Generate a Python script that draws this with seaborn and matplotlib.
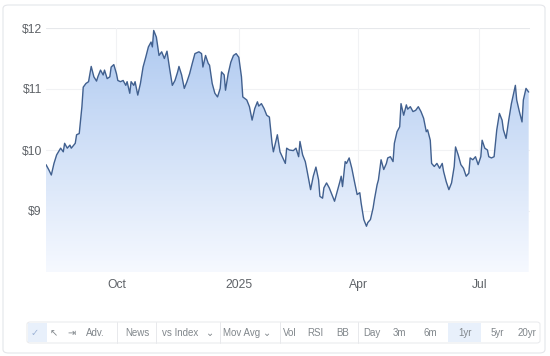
import numpy as np
import pandas as pd
import matplotlib
matplotlib.use("Agg")
import matplotlib.pyplot as plt
import matplotlib.dates as mdates
from matplotlib.patches import FancyBboxPatch, Rectangle
import seaborn as sns

# ---------------- data ----------------
dates = [
    "2024-08-09", "2024-08-11", "2024-08-13", "2024-08-15", "2024-08-17", "2024-08-20",
    "2024-08-22", "2024-08-23", "2024-08-25", "2024-08-27", "2024-08-28", "2024-08-31",
    "2024-09-01", "2024-09-03", "2024-09-05", "2024-09-06", "2024-09-08", "2024-09-10",
    "2024-09-11", "2024-09-12", "2024-09-14", "2024-09-16", "2024-09-17", "2024-09-19",
    "2024-09-21", "2024-09-22", "2024-09-24", "2024-09-26", "2024-09-27", "2024-09-29",
    "2024-10-01", "2024-10-02", "2024-10-04", "2024-10-06", "2024-10-08", "2024-10-09",
    "2024-10-11", "2024-10-12", "2024-10-14", "2024-10-15", "2024-10-17", "2024-10-19",
    "2024-10-21", "2024-10-23", "2024-10-25", "2024-10-27", "2024-10-28", "2024-10-29",
    "2024-10-31", "2024-11-02", "2024-11-04", "2024-11-06", "2024-11-08", "2024-11-10",
    "2024-11-12", "2024-11-14", "2024-11-16", "2024-11-17", "2024-11-19", "2024-11-21",
    "2024-11-23", "2024-11-25", "2024-11-27", "2024-11-29", "2024-12-02", "2024-12-04",
    "2024-12-05", "2024-12-07", "2024-12-09", "2024-12-10", "2024-12-12", "2024-12-14",
    "2024-12-16", "2024-12-18", "2024-12-19", "2024-12-21", "2024-12-22", "2024-12-24",
    "2024-12-26", "2024-12-28", "2024-12-30", "2025-01-01", "2025-01-03", "2025-01-04",
    "2025-01-07", "2025-01-09", "2025-01-11", "2025-01-13", "2025-01-15", "2025-01-16",
    "2025-01-18", "2025-01-20", "2025-01-22", "2025-01-24", "2025-01-26", "2025-01-27",
    "2025-01-30", "2025-02-01", "2025-02-05", "2025-02-06", "2025-02-08", "2025-02-11",
    "2025-02-13", "2025-02-15", "2025-02-16", "2025-02-18", "2025-02-20", "2025-02-21",
    "2025-02-24", "2025-02-26", "2025-02-28", "2025-03-02", "2025-03-03", "2025-03-05",
    "2025-03-06", "2025-03-08", "2025-03-10", "2025-03-12", "2025-03-14", "2025-03-16",
    "2025-03-18", "2025-03-19", "2025-03-20", "2025-03-22", "2025-03-23", "2025-03-25",
    "2025-03-27", "2025-03-29", "2025-03-31", "2025-04-02", "2025-04-03", "2025-04-05",
    "2025-04-07", "2025-04-08", "2025-04-10", "2025-04-12", "2025-04-13", "2025-04-15",
    "2025-04-16", "2025-04-18", "2025-04-20", "2025-04-22", "2025-04-23", "2025-04-25",
    "2025-04-27", "2025-04-28", "2025-04-30", "2025-05-02", "2025-05-03", "2025-05-05",
    "2025-05-07", "2025-05-08", "2025-05-10", "2025-05-12", "2025-05-14", "2025-05-16",
    "2025-05-18", "2025-05-20", "2025-05-22", "2025-05-23", "2025-05-25", "2025-05-26",
    "2025-05-28", "2025-05-30", "2025-06-01", "2025-06-03", "2025-06-04", "2025-06-06",
    "2025-06-08", "2025-06-10", "2025-06-12", "2025-06-13", "2025-06-15", "2025-06-17",
    "2025-06-19", "2025-06-21", "2025-06-23", "2025-06-24", "2025-06-26", "2025-06-28",
    "2025-06-30", "2025-07-02", "2025-07-03", "2025-07-05", "2025-07-07", "2025-07-08",
    "2025-07-10", "2025-07-12", "2025-07-14", "2025-07-16", "2025-07-18", "2025-07-19",
    "2025-07-21", "2025-07-23", "2025-07-25", "2025-07-28", "2025-07-29", "2025-07-31",
    "2025-08-02", "2025-08-03", "2025-08-05", "2025-08-07",
]
prices = [
    9.76, 9.68, 9.59, 9.78, 9.92, 10.03,
    9.97, 10.11, 10.03, 10.08, 10.03, 10.11,
    10.25, 10.27, 10.71, 11.03, 11.09, 11.12,
    11.25, 11.37, 11.20, 11.13, 11.20, 11.31,
    11.23, 11.31, 11.17, 11.20, 11.36, 11.40,
    11.25, 11.14, 11.12, 11.14, 11.06, 11.12,
    10.93, 11.12, 11.06, 11.12, 10.90, 11.09,
    11.36, 11.52, 11.69, 11.77, 11.69, 11.96,
    11.85, 11.55, 11.61, 11.50, 11.62, 11.33,
    11.06, 11.14, 11.28, 11.37, 11.23, 11.01,
    11.12, 11.25, 11.42, 11.58, 11.61, 11.58,
    11.36, 11.55, 11.42, 11.39, 11.09, 10.93,
    10.87, 11.01, 11.28, 11.23, 10.98, 11.25,
    11.44, 11.55, 11.58, 11.52, 11.20, 10.87,
    10.82, 10.71, 10.49, 10.68, 10.79, 10.72,
    10.76, 10.68, 10.57, 10.54, 10.11, 9.97,
    10.25, 9.97, 9.78, 10.03, 10.00, 9.99,
    10.03, 9.89, 10.14, 9.92, 9.81, 9.70,
    9.35, 9.57, 9.72, 9.51, 9.24, 9.21,
    9.38, 9.46, 9.38, 9.27, 9.16, 9.32,
    9.48, 9.57, 9.40, 9.81, 9.78, 9.87,
    9.70, 9.48, 9.27, 9.30, 9.13, 8.86,
    8.75, 8.81, 8.86, 9.05, 9.19, 9.43,
    9.51, 9.84, 9.68, 9.78, 9.87, 9.89,
    9.81, 10.11, 10.30, 10.38, 10.76, 10.57,
    10.74, 10.67, 10.71, 10.63, 10.65, 10.71,
    10.63, 10.52, 10.30, 10.33, 10.16, 9.78,
    9.73, 9.78, 9.70, 9.78, 9.65, 9.48,
    9.35, 9.46, 9.73, 10.05, 9.92, 9.76,
    9.70, 9.57, 9.62, 9.87, 9.84, 9.89,
    9.76, 9.89, 10.16, 10.03, 10.00, 9.89,
    9.87, 9.89, 10.33, 10.60, 10.49, 10.33,
    10.19, 10.49, 10.76, 11.06, 10.82, 10.63,
    10.46, 10.82, 11.01, 10.95,
]
x_tick_dates = ["2024-10-01", "2025-01-01", "2025-04-01", "2025-07-01"]
x_tick_labels = ["Oct", "2025", "Apr", "Jul"]
y_ticks = [9, 10, 11, 12]
y_tick_labels = ["$9", "$10", "$11", "$12"]
toolbar_labels = ["\u2713", "\u2196", "\u21e5", "Adv.", "News", "vs Index", "\u2304",
                  "Mov Avg", "\u2304", "Vol", "RSI", "BB", "Day", "3m", "6m", "1yr", "5yr", "20yr"]

df = pd.DataFrame({"date": pd.to_datetime(dates), "price": prices})

# ---------------- figure ----------------
sns.set_theme(style="white")
plt.rcParams["font.family"] = ["Liberation Sans", "DejaVu Sans"]

W, H = 550, 356
fig = plt.figure(figsize=(W / 100, H / 100), dpi=100)
fig.patch.set_facecolor("white")

# card outline
card = FancyBboxPatch((3 / W, 3 / H), (W - 8) / W, (H - 8) / H,
                      boxstyle="round,pad=0,rounding_size=0.01",
                      transform=fig.transFigure, facecolor="none",
                      edgecolor="#e4e6ea", linewidth=0.8, zorder=-5)
fig.patches.append(card)

ax_left, ax_right, ax_top, ax_bottom = 46, 530, 28, 272
ax = fig.add_axes([ax_left / W, 1 - ax_bottom / H, (ax_right - ax_left) / W,
                   (ax_bottom - ax_top) / H])
ax.set_facecolor("none")
ax.set_zorder(2)

ymin, ymax = 8.0, 12.0
xmin = pd.Timestamp("2024-08-09")
xmax = pd.Timestamp("2025-08-08")

# gridlines
for yv in y_ticks:
    ax.axhline(yv, color="#e6e8eb" if yv == 12 else "#f1f2f4", lw=0.8, zorder=1)
for d in x_tick_dates:
    ax.axvline(pd.Timestamp(d), color="#f1f2f4", lw=0.8, zorder=1)

# gradient fill under the line
poly = ax.fill_between(df["date"], df["price"], ymin, color="none", lw=0, zorder=2)
top = np.array([174, 201, 240]) / 255
bot = np.array([246, 249, 255]) / 255
t = np.linspace(0, 1, 256)[:, None]
grad = (top[None, :] * (1 - t) + bot[None, :] * t)[:, None, :]
im = ax.imshow(grad, extent=[mdates.date2num(xmin), mdates.date2num(xmax), ymin, ymax],
               aspect="auto", origin="upper", zorder=2)
clip_path = poly.get_paths()[0]
im.set_clip_path(clip_path, transform=ax.transData)

sns.lineplot(data=df, x="date", y="price", ax=ax, color="#41608f", lw=1.0, zorder=3)

ax.set_xlim(xmin, xmax)
ax.set_ylim(ymin, ymax)
ax.set_xticks(pd.to_datetime(x_tick_dates))
ax.set_xticklabels(x_tick_labels)
ax.set_yticks(y_ticks)
ax.set_yticklabels(y_tick_labels)
ax.tick_params(axis="both", length=0, labelsize=8.7, colors="#5f6368")
ax.tick_params(axis="y", pad=3)
ax.tick_params(axis="x", pad=5)
ax.set_xlabel("")
ax.set_ylabel("")
for s in ax.spines.values():
    s.set_visible(False)

# ---------------- toolbar ----------------
ty0, ty1 = 322, 343
bar = FancyBboxPatch((27 / W, 1 - ty1 / H), (540 - 27) / W, (ty1 - ty0) / H,
                     boxstyle="round,pad=0,rounding_size=0.006",
                     transform=fig.transFigure, facecolor="white",
                     edgecolor="#e8e9ec", linewidth=0.7, zorder=-4)
fig.patches.append(bar)
# highlighted buttons
for (x0, x1) in [(28, 47), (448, 481)]:
    fig.patches.append(Rectangle((x0 / W, 1 - (ty1 - 1) / H), (x1 - x0) / W,
                                 (ty1 - ty0 - 2) / H, transform=fig.transFigure,
                                 facecolor="#e8f0fb", edgecolor="none", zorder=-3))
# group dividers
for xd in [117, 156, 220, 280, 358]:
    fig.lines.append(plt.Line2D([xd / W, xd / W], [1 - ty1 / H, 1 - ty0 / H],
                                transform=fig.transFigure, color="#e8e9ec", lw=0.7,
                                zorder=-3))

toolbar_x = [35, 54, 72, 95, 137, 180, 210, 242, 267, 290, 315, 343, 372, 399, 430, 465, 497, 527]
ty = 1 - 333 / H
for lab, xx in zip(toolbar_labels, toolbar_x):
    col = "#9db3d6" if lab == "\u2713" else "#80868b"
    fig.text(xx / W, ty, lab, ha="center", va="center", fontsize=7, color=col,
             family=["Liberation Sans", "DejaVu Sans"])

fig.savefig("out.png", dpi=100, facecolor="white")
